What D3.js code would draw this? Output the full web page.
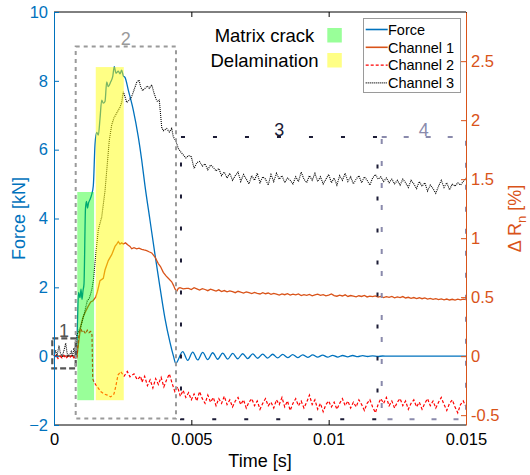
<!DOCTYPE html>
<html>
<head>
<meta charset="utf-8">
<script src="https://cdn.jsdelivr.net/npm/d3@7"></script>
<style>
  body { margin: 0; background: #fff; }
  svg { font-family: "Liberation Sans", Arial, Helvetica, sans-serif; }
</style>
</head>
<body>
<svg id="chart" width="530" height="475"></svg>
<script>
// ---------- data ----------
var xTicks = [0, 0.005, 0.01, 0.015];
var xTickLabels = ["0", "0.005", "0.01", "0.015"];
var forceTicks = [-2, 0, 2, 4, 6, 8, 10];
var rTicks = [-0.5, 0, 0.5, 1, 1.5, 2, 2.5];
var rTickLabels = ["-0.5", "0", "0.5", "1", "1.5", "2", "2.5"];

// Force [kN]
var forceT = [0, 0.00082, 0.000856, 0.000892, 0.000947, 0.000983, 0.00102, 0.001056, 0.001092, 0.001147,
  0.001183, 0.00122, 0.001256, 0.001311, 0.001373, 0.001431, 0.001493, 0.001555, 0.001613, 0.001675,
  0.001737, 0.001795, 0.001857, 0.001919, 0.001977, 0.002064, 0.002137, 0.002195, 0.002257, 0.002341,
  0.002403, 0.002465, 0.002523, 0.002585, 0.002705, 0.002887, 0.003069, 0.003193, 0.003313, 0.003495,
  0.003677, 0.003859, 0.00404, 0.004223, 0.00435, 0.004431];
var forceV = [0, 0, 1.0, 1.85, 1.7, 1.95, 1.65, 1.9, 2.1, 4.3,
  4.5, 4.3, 4.45, 4.55, 4.7, 4.95, 6.15, 6.5, 6.42, 6.9,
  7.44, 7.35, 7.4, 7.97, 7.83, 7.97, 8.12, 8.41, 8.22, 8.28,
  8.2, 8.31, 8.14, 8.1, 7.73, 7.15, 6.37, 5.7, 4.95, 3.95,
  2.95, 2.0, 1.1, 0.4, 0.0, -0.21];
// ringing after the drop, peaks and troughs every half period
var forceOscStart = 0.004686, forceOscStep = 0.000182;
var forceOsc = [0.13, -0.12, 0.12, -0.11, 0.11, -0.1, 0.1, -0.09, 0.09, -0.085,
  0.08, -0.075, 0.07, -0.07, 0.065, -0.06, 0.06, -0.055, 0.055, -0.05,
  0.05, -0.045, 0.045, -0.04, 0.04, -0.035, 0.035, -0.03, 0.03, -0.03,
  0.025, -0.025, 0.02, -0.02, 0.02, -0.015, 0.015, -0.01, 0.01, -0.01, 0.005, 0];
var forceEnd = [0.015, 0];

// Channel 1 [%]
var ch1T = [0, 0.000837, 0.000874, 0.00091, 0.000972, 0.001056, 0.001154, 0.001238, 0.001336, 0.00142,
  0.001518, 0.001584, 0.001675, 0.001795, 0.001857, 0.001977, 0.002101, 0.002221, 0.002283, 0.002341,
  0.002403, 0.002465, 0.002523, 0.002603, 0.002705, 0.002767, 0.002829, 0.002913, 0.003011, 0.003095,
  0.003193, 0.003277, 0.003375, 0.003459, 0.003557, 0.003677, 0.003797, 0.003877, 0.003979, 0.004078,
  0.004161, 0.004285, 0.004351, 0.004405, 0.004467, 0.004526, 0.004587, 0.004708, 0.004831];
var ch1V = [0, 0, 0.07, 0.14, 0.25, 0.33, 0.38, 0.42, 0.46, 0.47,
  0.5, 0.55, 0.64, 0.66, 0.73, 0.81, 0.86, 0.93, 0.95, 0.97,
  0.95, 0.96, 0.95, 0.96, 0.94, 0.93, 0.91, 0.92, 0.91, 0.915,
  0.905, 0.9, 0.895, 0.885, 0.875, 0.84, 0.785, 0.76, 0.71, 0.68,
  0.66, 0.63, 0.6, 0.57, 0.55, 0.575, 0.58, 0.57, 0.575];
var ch1TailStart = 0.0049, ch1TailStep = 0.0001;
var ch1Tail = [0.575, 0.565, 0.58, 0.57, 0.56, 0.572, 0.565, 0.555, 0.568, 0.56,
  0.552, 0.562, 0.548, 0.556, 0.545, 0.553, 0.547, 0.538, 0.55, 0.542,
  0.535, 0.545, 0.538, 0.53, 0.541, 0.533, 0.527, 0.538, 0.529, 0.535,
  0.524, 0.532, 0.526, 0.518, 0.528, 0.521, 0.53, 0.517, 0.525, 0.519,
  0.527, 0.514, 0.522, 0.516, 0.524, 0.512, 0.52, 0.526, 0.515, 0.522,
  0.511, 0.518, 0.528, 0.513, 0.508, 0.517, 0.51, 0.52, 0.506, 0.514,
  0.509, 0.503, 0.512, 0.506, 0.515, 0.502, 0.509, 0.504, 0.511, 0.5,
  0.506, 0.497, 0.504, 0.499, 0.506, 0.495, 0.502, 0.497, 0.505, 0.493,
  0.499, 0.49, 0.497, 0.488, 0.495, 0.487, 0.493, 0.484, 0.49, 0.481,
  0.488, 0.479, 0.485, 0.477, 0.484, 0.476, 0.482, 0.475, 0.483, 0.477,
  0.484, 0.48];

// Channel 2 [%]
var ch2T = [0, 0.000073, 0.000146, 0.000218, 0.000291, 0.000364, 0.000437, 0.00051, 0.000583, 0.000655,
  0.000728, 0.000801, 0.000837, 0.000892, 0.000928, 0.000983, 0.001038, 0.001092, 0.001154, 0.001212,
  0.001274, 0.001336, 0.001384, 0.001409, 0.001456, 0.001576, 0.0017, 0.00182, 0.00194, 0.002064,
  0.002184, 0.002246, 0.00233, 0.002428, 0.002549, 0.002669, 0.002767, 0.002913, 0.003033, 0.003157];
var ch2V = [-0.01, 0.01, -0.02, 0, -0.015, 0.005, -0.02, 0, -0.01, 0.01,
  -0.015, 0, -0.01, 0.15, 0.21, 0.23, 0.2, 0.21, 0.19, 0.22,
  0.2, 0.21, 0.18, -0.19, -0.22, -0.26, -0.3, -0.32, -0.33, -0.345,
  -0.32, -0.26, -0.16, -0.13, -0.17, -0.13, -0.175, -0.15, -0.2, -0.17];
var ch2TailStart = 0.0032, ch2TailStep = 0.0001;
var ch2Tail = [-0.22, -0.17, -0.25, -0.2, -0.27, -0.19, -0.24, -0.18, -0.26, -0.2,
  -0.15, -0.23, -0.3, -0.26, -0.34, -0.29, -0.35, -0.31, -0.37, -0.32,
  -0.38, -0.3, -0.36, -0.4, -0.33, -0.39, -0.35, -0.42, -0.36, -0.4,
  -0.34, -0.41, -0.37, -0.43, -0.38, -0.35, -0.41, -0.37, -0.44, -0.39,
  -0.36, -0.42, -0.38, -0.45, -0.4, -0.36, -0.42, -0.39, -0.44, -0.37,
  -0.41, -0.35, -0.43, -0.38, -0.46, -0.4, -0.36, -0.42, -0.38, -0.44,
  -0.39, -0.33, -0.41, -0.37, -0.45, -0.4, -0.47, -0.41, -0.38, -0.43,
  -0.39, -0.45, -0.4, -0.36, -0.42, -0.38, -0.44, -0.39, -0.43, -0.37,
  -0.41, -0.46, -0.4, -0.37, -0.43, -0.48, -0.41, -0.36, -0.4, -0.35,
  -0.42, -0.38, -0.44, -0.39, -0.36, -0.42, -0.38, -0.45, -0.4, -0.37,
  -0.43, -0.39, -0.45, -0.4, -0.36, -0.42, -0.38, -0.44, -0.39, -0.35,
  -0.41, -0.46, -0.4, -0.37, -0.43, -0.48, -0.41, -0.38, -0.43];

// Channel 3 [%]
var ch3T = [0, 0.000062, 0.000109, 0.000182, 0.000237, 0.000302, 0.000364, 0.000426, 0.000473, 0.00051,
  0.000583, 0.00063, 0.000674, 0.000728, 0.000783, 0.000837, 0.000892, 0.000972, 0.001092, 0.001212,
  0.001285, 0.001373, 0.001431, 0.001529, 0.001613, 0.001737, 0.001802, 0.001857, 0.00193, 0.002013,
  0.002101, 0.002184, 0.002283, 0.002403, 0.002465, 0.002523, 0.002585, 0.002647, 0.002742, 0.002829,
  0.002949, 0.003011, 0.003095, 0.003157, 0.003229, 0.003313, 0.003397, 0.00347, 0.003557, 0.003641,
  0.003714, 0.003761, 0.003834, 0.003921, 0.003979, 0.004103, 0.004198, 0.004285, 0.004343, 0.004442,
  0.004526, 0.004649];
var ch3V = [0, 0.05, 0, 0.09, 0.02, 0, 0.05, 0.11, 0.03, 0,
  0.02, 0.04, 0, 0.07, 0.02, 0.18, 0.21, 0.25, 0.35, 0.47,
  0.49, 0.56, 0.64, 0.88, 1.07, 1.18, 1.3, 1.4, 1.6, 1.83,
  1.96, 2.02, 2.06, 2.11, 2.15, 2.24, 2.2, 2.15, 2.17, 2.2,
  2.28, 2.32, 2.34, 2.28, 2.25, 2.27, 2.29, 2.27, 2.3, 2.23,
  2.18, 2.16, 2.17, 1.94, 1.91, 1.93, 1.9, 1.93, 1.86, 1.82,
  1.76, 1.72];
var ch3TailStart = 0.0048, ch3TailStep = 0.0001;
var ch3Tail = [1.68, 1.7, 1.69, 1.59, 1.64, 1.65, 1.61, 1.63, 1.58, 1.62,
  1.6, 1.57, 1.59, 1.53, 1.56, 1.51, 1.55, 1.49, 1.53, 1.56,
  1.48, 1.54, 1.5, 1.46, 1.53, 1.49, 1.55, 1.47, 1.52, 1.5,
  1.45, 1.54, 1.48, 1.55, 1.5, 1.53, 1.47, 1.51, 1.49, 1.46,
  1.52, 1.48, 1.56, 1.5, 1.47, 1.53, 1.49, 1.55, 1.48, 1.52,
  1.46, 1.5, 1.54, 1.47, 1.51, 1.45, 1.53, 1.49, 1.55, 1.48,
  1.52, 1.46, 1.5, 1.53, 1.47, 1.52, 1.49, 1.45, 1.51, 1.54,
  1.5, 1.52, 1.48, 1.51, 1.47, 1.5, 1.46, 1.49, 1.45, 1.5,
  1.47, 1.43, 1.49, 1.46, 1.42, 1.48, 1.44, 1.47, 1.4, 1.45,
  1.42, 1.38, 1.44, 1.49, 1.43, 1.47, 1.41, 1.46, 1.44, 1.47,
  1.45, 1.48, 1.51];

// damage phases (force units)
var patchNames = ["Matrix crack", "Delamination"];
var patchT0 = [0.000848, 0.00152];
var patchT1 = [0.00146, 0.00254];
var patchTop = [4.77, 8.4];
var patchBottom = [-1.28, -1.28];

// numbered stage boxes (force units)
var boxLabels = ["1", "2", "3", "4"];
var boxT0 = [-0.000062, 0.00079, 0.004623, 0.011931];
var boxT1 = [0.00079, 0.004441, 0.011778, 0.015];
var boxTop = [0.515, 9.0, 6.37, 6.37];
var boxBottom = [-0.357, -1.81, -1.83, -1.83];

var seriesNames = ["Force", "Channel 1", "Channel 2", "Channel 3"];

// ---------- helpers ----------
function pairs(ts, vs) {
  return ts.map(function(t, i) { return [t, vs[i]]; });
}
function sampled(start, step, vs) {
  return vs.map(function(v, i) { return [start + i * step, v]; });
}

var forceData = pairs(forceT, forceV).concat(sampled(forceOscStart, forceOscStep, forceOsc), [forceEnd]);
var ch1Data = pairs(ch1T, ch1V).concat(sampled(ch1TailStart, ch1TailStep, ch1Tail));
var ch2Data = pairs(ch2T, ch2V).concat(sampled(ch2TailStart, ch2TailStep, ch2Tail));
var ch3Data = pairs(ch3T, ch3V).concat(sampled(ch3TailStart, ch3TailStep, ch3Tail));

// ---------- layout ----------
var blue = "#0072BD", orange = "#D95319", red = "#FF0000";
var margin = {left: 54, top: 12, right: 64, bottom: 50};
var W = 530, H = 475;
var svg = d3.select("#chart");

var x = d3.scaleLinear().domain([0, 0.015]).range([margin.left, W - margin.right]);
var yF = d3.scaleLinear().domain([-2, 10]).range([H - margin.bottom, margin.top]);
var yR = d3.scaleLinear().domain([-2 / 12 * 3.5, 10 / 12 * 3.5]).range([H - margin.bottom, margin.top]);

var x0 = margin.left, x1 = W - margin.right, yTop = margin.top, yBot = H - margin.bottom;

// ---------- series ----------
var lineF = d3.line().x(function(d) { return x(d[0]); }).y(function(d) { return yF(d[1]); }).curve(d3.curveMonotoneX);
var lineR = d3.line().x(function(d) { return x(d[0]); }).y(function(d) { return yR(d[1]); });

svg.append("path").datum(forceData).attr("d", lineF)
  .attr("fill", "none").attr("stroke", blue).attr("stroke-width", 1.3);
svg.append("path").datum(ch1Data).attr("d", lineR)
  .attr("fill", "none").attr("stroke", orange).attr("stroke-width", 1.3);
svg.append("path").datum(ch2Data).attr("d", lineR)
  .attr("fill", "none").attr("stroke", red).attr("stroke-width", 1.2).attr("stroke-dasharray", "3,2");
svg.append("path").datum(ch3Data).attr("d", lineR)
  .attr("fill", "none").attr("stroke", "#000").attr("stroke-width", 1.1).attr("stroke-dasharray", "1,1");

// ---------- phase patches ----------
var patchFill = ["#00ff00", "#ffff00"];
var patchOpacity = [0.4, 0.48];
patchNames.forEach(function(n, i) {
  svg.append("rect")
    .attr("x", x(patchT0[i])).attr("y", yF(patchTop[i]))
    .attr("width", x(patchT1[i]) - x(patchT0[i]))
    .attr("height", yF(patchBottom[i]) - yF(patchTop[i]))
    .attr("fill", patchFill[i]).attr("fill-opacity", patchOpacity[i]);
});

// ---------- stage boxes ----------
var boxColor = ["#555555", "#9a9a9a", "#1c1c36", "#8a8aac"];
var boxDash = ["6,3", "4,4", "4,28", "5,17"];
var boxWidth = [2.2, 2, 2, 2];
boxLabels.forEach(function(lab, i) {
  var bx0 = x(boxT0[i]), bx1 = x(boxT1[i]), by0 = yF(boxTop[i]), by1 = yF(boxBottom[i]);
  svg.append("rect")
    .attr("x", bx0).attr("y", by0).attr("width", bx1 - bx0).attr("height", by1 - by0)
    .attr("fill", "none").attr("stroke", boxColor[i]).attr("stroke-width", boxWidth[i])
    .attr("stroke-dasharray", boxDash[i]);
  svg.append("text")
    .attr("x", (bx0 + bx1) / 2).attr("y", by0 - 1)
    .attr("text-anchor", "middle").attr("font-size", "18px")
    .attr("fill", boxColor[i]).text(lab);
});

// ---------- axes ----------
svg.append("line").attr("x1", x0).attr("x2", x1).attr("y1", yTop).attr("y2", yTop)
  .attr("stroke", "#000").attr("stroke-width", 1);
svg.append("line").attr("x1", x0).attr("x2", x1).attr("y1", yBot).attr("y2", yBot)
  .attr("stroke", "#000").attr("stroke-width", 1);

var gx = svg.append("g").attr("transform", "translate(0," + yBot + ")")
  .call(d3.axisBottom(x).tickValues(xTicks).tickFormat(function(d, i) { return xTickLabels[i]; })
    .tickSizeInner(-5).tickSizeOuter(0).tickPadding(8));
gx.select(".domain").remove();
gx.selectAll("line").attr("stroke", "#000");
gx.selectAll("text").attr("font-size", "16.5px").attr("fill", "#000").attr("font-family", null);

var gxt = svg.append("g").attr("transform", "translate(0," + yTop + ")")
  .call(d3.axisTop(x).tickValues(xTicks).tickFormat("").tickSizeInner(-5).tickSizeOuter(0));
gxt.select(".domain").remove();
gxt.selectAll("line").attr("stroke", "#000");

var gl = svg.append("g").attr("transform", "translate(" + x0 + ",0)")
  .call(d3.axisLeft(yF).tickValues(forceTicks).tickSizeInner(-5).tickSizeOuter(0).tickPadding(6));
gl.select(".domain").attr("stroke", blue);
gl.selectAll("line").attr("stroke", blue);
gl.selectAll("text").attr("font-size", "16.5px").attr("fill", blue).attr("font-family", null);

var gr = svg.append("g").attr("transform", "translate(" + x1 + ",0)")
  .call(d3.axisRight(yR).tickValues(rTicks).tickFormat(function(d, i) { return rTickLabels[i]; })
    .tickSizeInner(-5).tickSizeOuter(0).tickPadding(5));
gr.select(".domain").attr("stroke", orange);
gr.selectAll("line").attr("stroke", orange);
gr.selectAll("text").attr("font-size", "16.5px").attr("fill", orange).attr("font-family", null);

// axis titles
svg.append("text").attr("x", (x0 + x1) / 2).attr("y", 467)
  .attr("text-anchor", "middle").attr("font-size", "18px").attr("fill", "#000").text("Time [s]");

svg.append("text").attr("transform", "translate(25," + (yTop + yBot) / 2 + ") rotate(-90)")
  .attr("text-anchor", "middle").attr("font-size", "18px").attr("fill", blue).text("Force [kN]");

var rt = svg.append("text").attr("transform", "translate(521," + (yTop + yBot) / 2 + ") rotate(-90)")
  .attr("text-anchor", "middle").attr("font-size", "18px").attr("fill", orange);
rt.append("tspan").text("\u0394 R");
rt.append("tspan").attr("font-size", "13px").attr("dy", 5).text("n");
rt.append("tspan").attr("dy", -5).text(" [%]");

// ---------- phase key ----------
var keyBaseline = [41.5, 66.5];
patchNames.forEach(function(n, i) {
  svg.append("text").attr("x", 264.5).attr("y", keyBaseline[i])
    .attr("text-anchor", "middle").attr("font-size", "18.5px").attr("fill", "#000").text(n);
  svg.append("rect").attr("x", 327.3).attr("y", keyBaseline[i] - 13.5)
    .attr("width", 14.5).attr("height", 14.5)
    .attr("fill", patchFill[i]).attr("fill-opacity", patchOpacity[i]);
});

// ---------- legend ----------
var lg = svg.append("g");
lg.append("rect").attr("x", 363.5).attr("y", 18.5).attr("width", 97).attr("height", 74)
  .attr("fill", "#fff").attr("stroke", "#9a9a9a").attr("stroke-width", 1);
var legColor = [blue, orange, red, "#000"];
var legDash = [null, null, "3,2", "1,1"];
var legWidth = [1.6, 1.6, 1.2, 1.1];
seriesNames.forEach(function(n, i) {
  var cy = 29.5 + i * 17.8;
  lg.append("line").attr("x1", 365.7).attr("x2", 387.7).attr("y1", cy).attr("y2", cy)
    .attr("stroke", legColor[i]).attr("stroke-width", legWidth[i]).attr("stroke-dasharray", legDash[i]);
  lg.append("text").attr("x", 388).attr("y", cy + 5.2).attr("font-size", "14.5px")
    .attr("fill", "#000").text(n);
});
</script>
</body>
</html>
